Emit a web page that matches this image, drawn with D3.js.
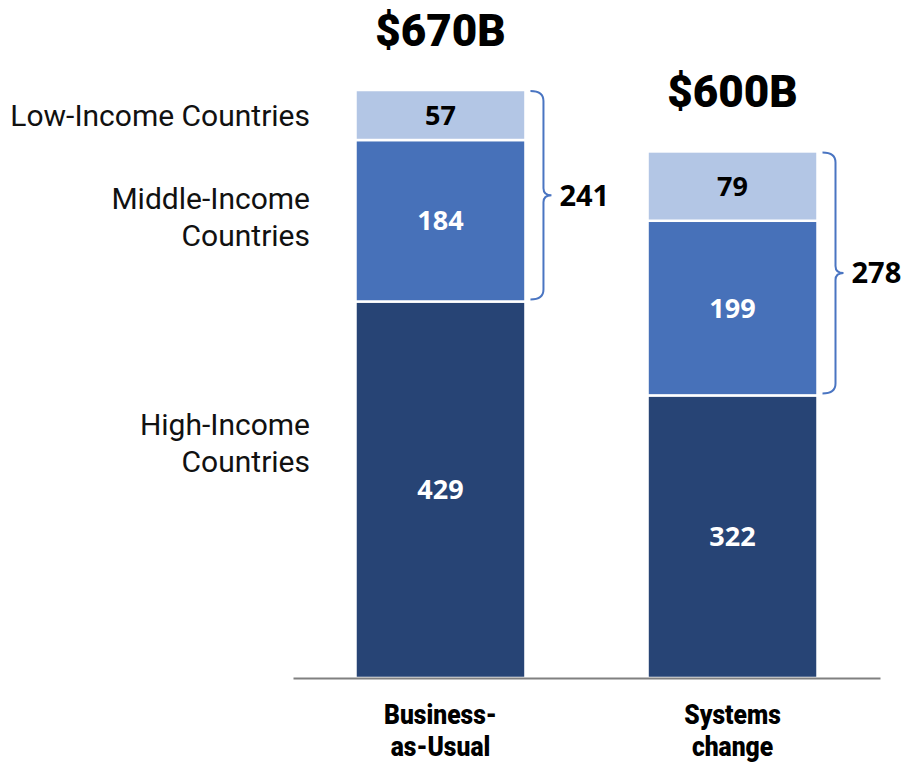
<!DOCTYPE html>
<html>
<head>
<meta charset="utf-8">
<script src="https://cdn.jsdelivr.net/npm/d3@7"></script>
<style>
  html, body { margin: 0; padding: 0; background: #fff; }
  svg { display: block; }
</style>
</head>
<body>
<svg id="chart" width="910" height="764"></svg>
<script>
// Scenario categories and spending by income group ($ billions)
const scenarios = ["Business-as-Usual", "Systems change"];
const scenarioLines = [["Business-", "as-Usual"], ["Systems", "change"]];
const highIncome = [429, 322];
const middleIncome = [184, 199];
const lowIncome = [57, 79];
const totalLabels = ["$670B", "$600B"];
const groupNames = ["High-Income Countries", "Middle-Income Countries", "Low-Income Countries"];
const groupLabelLines = [["High-Income", "Countries"], ["Middle-Income", "Countries"], ["Low-Income Countries"]];
const groupColors = ["#274475", "#4771b9", "#b3c6e5"];
const valueColors = ["#ffffff", "#ffffff", "#000000"];

const svg = d3.select("#chart");

const rows = scenarios.map((s, i) => ({
  scenario: s,
  high: highIncome[i],
  middle: middleIncome[i],
  low: lowIncome[i]
}));
const keys = ["high", "middle", "low"];
const stacked = d3.stack().keys(keys)(rows);
const totals = rows.map(r => r.high + r.middle + r.low);

const x = d3.scaleBand()
  .domain(scenarios)
  .range([293, 880])
  .paddingInner(0.418)
  .paddingOuter(0.214);

const y = d3.scaleLinear()
  .domain([0, d3.max(totals)])
  .range([678, 90]);

// Stacked segments
const layers = svg.append("g").selectAll("g")
  .data(stacked)
  .join("g")
  .attr("fill", (d, i) => groupColors[i]);

layers.selectAll("rect")
  .data(d => d)
  .join("rect")
  .attr("x", d => x(d.data.scenario))
  .attr("width", x.bandwidth())
  .attr("y", d => y(d[1]))
  .attr("height", d => y(d[0]) - y(d[1]))
  .attr("stroke", "#fff")
  .attr("stroke-width", 2.5);

// Segment values
stacked.forEach((layer, li) => {
  svg.append("g").selectAll("text")
    .data(layer)
    .join("text")
    .attr("x", d => x(d.data.scenario) + x.bandwidth() / 2)
    .attr("y", d => (y(d[0]) + y(d[1])) / 2)
    .attr("dy", "0.36em")
    .attr("text-anchor", "middle")
    .attr("font-family", "'Open Sans', sans-serif")
    .attr("font-weight", 700)
    .attr("font-size", 27)
    .attr("fill", valueColors[li])
    .text(d => d.data[keys[li]]);
});

// Baseline axis
const axis = d3.axisBottom(x).tickSize(0).tickFormat("");
const axisG = svg.append("g").attr("transform", `translate(0,${y(0)})`).call(axis);
axisG.select(".domain").attr("stroke", "#808080").attr("stroke-width", 2);

// Scenario labels under the axis (narrowed heavy type), one text per line
scenarios.forEach((s, i) => {
  const cx = x(s) + x.bandwidth() / 2;
  const g = svg.append("g").attr("transform", `translate(${cx},0) scale(0.88,1)`);
  g.selectAll("text")
    .data(scenarioLines[i])
    .join("text")
    .attr("x", 0)
    .attr("y", (line, j) => 724 + j * 32)
    .attr("text-anchor", "middle")
    .attr("font-family", "Roboto, sans-serif")
    .attr("font-weight", 900)
    .attr("font-size", 28)
    .attr("fill", "#000")
    .text(line => line);
});

// Totals above each bar
svg.append("g").selectAll("text")
  .data(rows)
  .join("text")
  .attr("x", d => x(d.scenario) + x.bandwidth() / 2)
  .attr("y", (d, i) => y(totals[i]) - 44)
  .attr("text-anchor", "middle")
  .attr("font-family", "Roboto, sans-serif")
  .attr("font-weight", 900)
  .attr("font-size", 44)
  .attr("fill", "#000")
  .text((d, i) => totalLabels[i]);

// Curly braces spanning middle + low income
rows.forEach((d, i) => {
  const top = y(totals[i]) + 1;
  const bot = y(d.high) - 2;
  const mid = (top + bot) / 2;
  const x0 = x(d.scenario) + x.bandwidth() + 5;
  const x1 = x0 + 13;
  const xt = x1 + 8;
  const r = 10;
  const p = d3.path();
  p.moveTo(x0, top);
  p.quadraticCurveTo(x1, top, x1, top + r);
  p.lineTo(x1, mid - 7);
  p.quadraticCurveTo(x1, mid, xt, mid);
  p.quadraticCurveTo(x1, mid, x1, mid + 7);
  p.lineTo(x1, bot - r);
  p.quadraticCurveTo(x1, bot, x0, bot);
  svg.append("path")
    .attr("d", p.toString())
    .attr("fill", "none")
    .attr("stroke", "#4a75c2")
    .attr("stroke-width", 2);
  svg.append("text")
    .attr("x", xt + 8)
    .attr("y", mid)
    .attr("dy", "0.36em")
    .attr("font-family", "'Open Sans', sans-serif")
    .attr("font-weight", 700)
    .attr("font-size", 29)
    .attr("fill", "#000")
    .text(d.middle + d.low);
});

// Income group labels on the left
const labelY = [443, 217, 115];
groupLabelLines.forEach((lines, gi) => {
  const n = lines.length;
  const t = svg.append("text")
    .attr("x", 310)
    .attr("y", labelY[gi] - (n - 1) * 18.5)
    .attr("text-anchor", "end")
    .attr("font-family", "Roboto, sans-serif")
    .attr("font-weight", 400)
    .attr("font-size", 30)
    .attr("fill", "#111");
  lines.forEach((line, j) => {
    t.append("tspan").attr("x", 310).attr("dy", j === 0 ? "0.36em" : 37).text(line);
  });
});
</script>
</body>
</html>
